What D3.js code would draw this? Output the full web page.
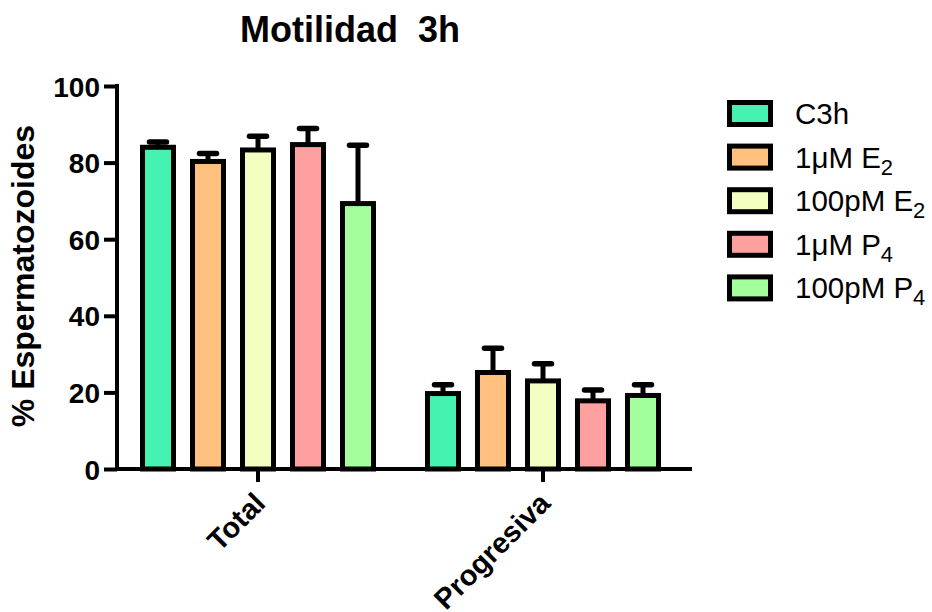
<!DOCTYPE html>
<html>
<head>
<meta charset="utf-8">
<script src="https://cdn.jsdelivr.net/npm/d3@7"></script>
<style>
  html, body { margin: 0; padding: 0; background: #fff; }
  svg { display: block; font-family: Arial, "Liberation Sans", Helvetica, sans-serif; }
</style>
</head>
<body>
<svg id="chart" width="932" height="612"></svg>
<script>
// Motility measurements after 3 h, mean ± SEM per treatment
const categories = ["Total", "Progresiva"];
const seriesNames = ["C3h", "1μM E2", "100pM E2", "1μM P4", "100pM P4"];
const seriesLabels = [
  { main: "C3h", sub: "" },
  { main: "1μM E", sub: "2" },
  { main: "100pM E", sub: "2" },
  { main: "1μM P", sub: "4" },
  { main: "100pM P", sub: "4" }
];
const seriesColors = ["#45F2B0", "#FFC080", "#F2FFC0", "#FFA0A0", "#A2FF9C"];
// values[series][category]
const means = [
  [84.0, 19.7],
  [80.3, 25.2],
  [83.3, 23.0],
  [84.7, 17.8],
  [69.3, 19.2]
];
const errors = [
  [1.4, 2.3],
  [2.1, 6.3],
  [3.6, 4.5],
  [4.2, 2.8],
  [15.2, 2.8]
];
const yTicks = [0, 20, 40, 60, 80, 100];

const svg = d3.select("#chart");

const y = d3.scaleLinear().domain([0, 100]).range([469, 86]);
const x0 = d3.scaleBand().domain(categories).range([117, 692])
  .paddingInner(0.1228).paddingOuter(0.0702).align(0.4);
const x1 = d3.scaleBand().domain(seriesNames).range([0, x0.bandwidth()]);
const barW = 31;

// title
svg.append("text")
  .attr("x", 350).attr("y", 42)
  .attr("text-anchor", "middle")
  .attr("font-size", 36).attr("font-weight", "bold")
  .attr("xml:space", "preserve")
  .text("Motilidad  3h");

// y axis title
svg.append("text")
  .attr("transform", "translate(34,276) rotate(-90)")
  .attr("text-anchor", "middle")
  .attr("font-size", 32).attr("font-weight", "bold")
  .text("% Espermatozoides");

// bars
const rows = [];
seriesNames.forEach((s, i) => {
  categories.forEach((c, j) => {
    rows.push({ s, i, c, v: means[i][j], e: errors[i][j] });
  });
});

const g = svg.append("g");
const cx = d => x0(d.c) + x1(d.s) + x1.bandwidth() / 2;

g.selectAll("rect.bar").data(rows).join("rect")
  .attr("class", "bar")
  .attr("x", d => cx(d) - barW / 2)
  .attr("width", barW)
  .attr("y", d => y(d.v))
  .attr("height", d => y(0) - y(d.v))
  .attr("fill", d => seriesColors[d.i])
  .attr("stroke", "#000").attr("stroke-width", 5);

// error bars (upper only)
g.selectAll("line.err").data(rows).join("line")
  .attr("class", "err")
  .attr("x1", cx).attr("x2", cx)
  .attr("y1", d => y(d.v)).attr("y2", d => y(d.v + d.e))
  .attr("stroke", "#000").attr("stroke-width", 5);
g.selectAll("line.cap").data(rows).join("line")
  .attr("class", "cap")
  .attr("x1", d => cx(d) - 8.5).attr("x2", d => cx(d) + 8.5)
  .attr("y1", d => y(d.v + d.e)).attr("y2", d => y(d.v + d.e))
  .attr("stroke", "#000").attr("stroke-width", 5.5)
  .attr("stroke-linecap", "round");

// y axis
const yAxis = svg.append("g")
  .attr("transform", "translate(117,0)")
  .call(d3.axisLeft(y).tickValues(yTicks).tickSize(13).tickSizeOuter(0).tickPadding(4));
yAxis.select(".domain").attr("stroke-width", 4).attr("d", `M0,${y(100) - 2}V${y(0) + 2}`);
yAxis.selectAll(".tick line").attr("stroke-width", 4);
yAxis.selectAll(".tick text")
  .attr("font-size", 28).attr("font-weight", "bold")
  .attr("font-family", "Arial, 'Liberation Sans', sans-serif")
  .attr("fill", "#000").attr("dy", "0.36em");

// x axis
const xAxis = svg.append("g")
  .attr("transform", `translate(0,${y(0)})`)
  .call(d3.axisBottom(x0).tickSize(13).tickSizeOuter(0).tickFormat(""));
xAxis.select(".domain").attr("stroke-width", 4).attr("d", "M115,0H692");
xAxis.selectAll(".tick line").attr("stroke-width", 4);

svg.append("g").selectAll("text.xl").data(categories).join("text")
  .attr("class", "xl")
  .attr("transform", d => `translate(${x0(d) + x0.bandwidth() / 2 + 9},${y(0) + 36}) rotate(-45)`)
  .attr("text-anchor", "end")
  .attr("font-size", 29).attr("font-weight", "bold")
  .text(d => d);

// legend
const leg = svg.append("g").attr("transform", "translate(727,100)");
const item = leg.selectAll("g.item").data(seriesNames).join("g")
  .attr("class", "item")
  .attr("transform", (d, i) => `translate(0,${i * 43.6})`);
item.append("rect")
  .attr("x", 2.5).attr("y", 2.5).attr("width", 41).attr("height", 22)
  .attr("fill", (d, i) => seriesColors[i])
  .attr("stroke", "#000").attr("stroke-width", 5);
const lt = item.append("text")
  .attr("x", 68).attr("y", 24)
  .attr("font-size", 29.5);
lt.append("tspan").text((d, i) => seriesLabels[i].main);
lt.append("tspan")
  .attr("font-size", 22).attr("dy", 7)
  .text((d, i) => seriesLabels[i].sub);
</script>
</body>
</html>
